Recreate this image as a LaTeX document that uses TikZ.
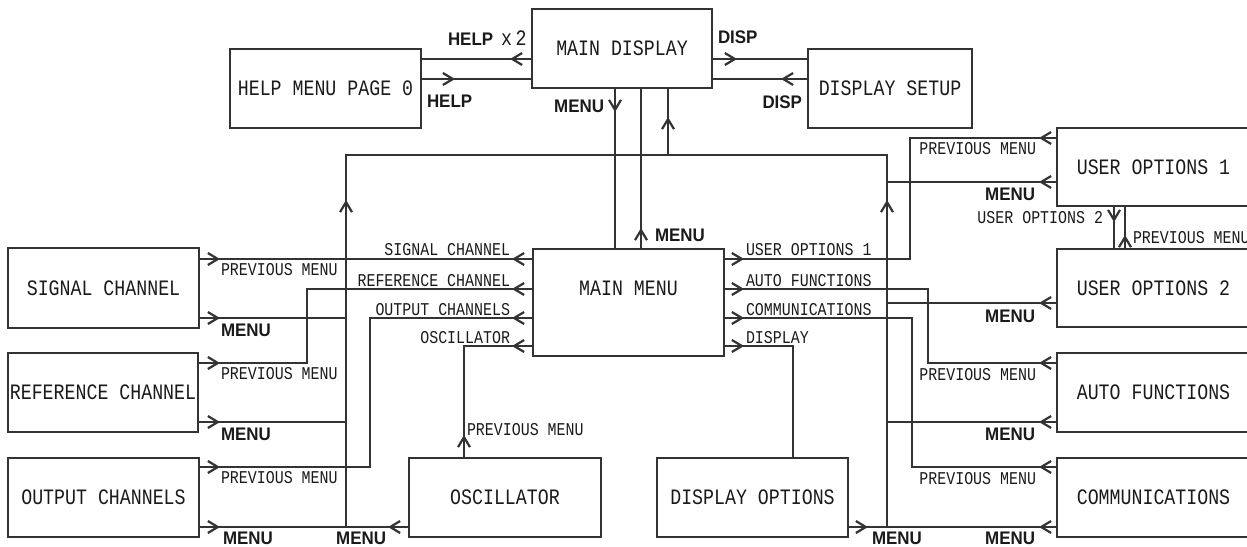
\documentclass[tikz,border=0pt]{standalone}
\usepackage{fontspec}
\usetikzlibrary{arrows.meta,decorations.markings}
\newfontfamily\monofnt[FakeStretch=0.83]{Liberation Mono}
\newfontfamily\sansfnt[FakeStretch=0.93]{Liberation Sans}
\definecolor{lc}{HTML}{333333}
\definecolor{tc}{HTML}{1A1A1A}
\tikzset{
  chev/.tip={Straight Barb[length=5pt,width=6pt,line width=1.1pt]},
  box/.style={draw=lc, line width=0.9pt, inner sep=0pt, outer sep=0pt, text=tc,
    font=\monofnt\fontsize{11}{13}\selectfont},
  conn/.style={draw=lc, line width=0.9pt},
  arrF/.style={postaction={decorate, decoration={markings, mark=at position #1 with {\arrow{chev}}}}},
  arrB/.style={postaction={decorate, decoration={markings, mark=at position -#1 with {\arrowreversed{chev}}}}},
  sl/.style={inner sep=0pt, outer sep=0pt, text=tc, font=\monofnt\fontsize{9}{11}\selectfont},
  ml/.style={inner sep=0pt, outer sep=0pt, text=tc, font=\monofnt\fontsize{11}{13}\selectfont},
  bl/.style={inner sep=0pt, outer sep=0pt, text=tc, font=\sansfnt\bfseries\fontsize{9.1}{11}\selectfont},
}
\begin{document}
\begin{tikzpicture}[x=0.5pt,y=-0.5pt]
\useasboundingbox (0,0) rectangle (1247,546);
\clip (0,0) rectangle (1247,546);
% ---------- boxes ----------
\node[box,minimum width=90pt,minimum height=39.5pt] (md) at (622,48.5) {MAIN DISPLAY};
\node[box,minimum width=95.5pt,minimum height=39.5pt] (help) at (325.5,88.5) {HELP MENU PAGE 0};
\node[box,minimum width=82pt,minimum height=39.5pt] (ds) at (890,88.5) {DISPLAY SETUP};
\node[box,minimum width=96.5pt,minimum height=39pt] (uo1) at (1153.5,167) {USER OPTIONS 1};
\node[box,minimum width=96.5pt,minimum height=39pt] (uo2) at (1153.5,288) {USER OPTIONS 2};
\node[box,minimum width=95.5pt,minimum height=53.5pt] (mm) at (628.5,302.5) {\raisebox{3.6pt}[0pt][0pt]{MAIN MENU}};
\node[box,minimum width=95.5pt,minimum height=40pt] (sc) at (103.5,288) {SIGNAL CHANNEL};
\node[box,minimum width=95pt,minimum height=39.5pt] (rc) at (103,392.5) {REFERENCE CHANNEL};
\node[box,minimum width=95.5pt,minimum height=39.5pt] (oc) at (103.5,497.5) {OUTPUT CHANNELS};
\node[box,minimum width=96pt,minimum height=39.5pt] (osc) at (505,497.5) {OSCILLATOR};
\node[box,minimum width=95.5pt,minimum height=39.5pt] (dop) at (752.5,497.5) {DISPLAY OPTIONS};
\node[box,minimum width=96.5pt,minimum height=39.5pt] (af) at (1153.5,392.5) {AUTO FUNCTIONS};
\node[box,minimum width=96.5pt,minimum height=39.5pt] (comm) at (1153.5,497.5) {COMMUNICATIONS};
% ---------- top connectors ----------
\draw[conn,arrF=11pt] (md.west |- 0,59) -- (help.east |- 0,59);
\draw[conn,arrF=17pt] (help.east |- 0,79) -- (md.west |- 0,79);
\draw[conn,arrF=12.5pt] (md.east |- 0,59) -- (ds.west |- 0,59);
\draw[conn,arrF=13.5pt] (ds.west |- 0,79) -- (md.east |- 0,79);
\draw[conn,arrF=12pt] (md.south -| 615,0) -- (mm.north -| 615,0);
\draw[conn,arrF=10.5pt] (mm.north -| 641,0) -- (md.south -| 641,0);
% ---------- MENU bus ----------
\coordinate (busl) at (346,155);
\coordinate (busr) at (887,155);
\coordinate (buslb) at (346,527);
\coordinate (busrb) at (887,527);
\draw[conn,arrF=163.5pt,arrB=163.5pt] (buslb) -- (busl) -- (busr) -- (busrb);
\draw[conn,arrF=19pt] (668,155) -- (md.south -| 668,0);
% ---------- left side ----------
\draw[conn,arrF=10.5pt,arrB=10.5pt] (mm.west |- 0,259) -- (sc.east |- 0,259);
\draw[conn,arrF=10.5pt,arrB=11pt] (mm.west |- 0,289) -| (307,363) -- (rc.east |- 0,363);
\draw[conn,arrF=10.5pt,arrB=10.5pt] (mm.west |- 0,318) -| (370,467) -- (oc.east |- 0,467);
\draw[conn,arrF=10.5pt,arrB=11.5pt] (mm.west |- 0,346) -| (osc.north -| 464,0);
\draw[conn,arrF=10.5pt] (sc.east |- 0,318) -- (346,318);
\draw[conn,arrF=11pt] (rc.east |- 0,422) -- (346,422);
\draw[conn,arrF=10.5pt,arrB=10.5pt] (oc.east |- 0,527) -- (osc.west |- 0,527);
% ---------- right side ----------
\draw[conn,arrF=10pt,arrB=9pt] (mm.east |- 0,259) -| (910,138) -- (uo1.west |- 0,138);
\draw[conn,arrF=10pt,arrB=9pt] (mm.east |- 0,289) -| (928,363) -- (af.west |- 0,363);
\draw[conn,arrF=10pt,arrB=9pt] (mm.east |- 0,318) -| (912,467) -- (comm.west |- 0,467);
\draw[conn,arrF=10pt] (mm.east |- 0,346) -| (dop.north -| 793,0);
\draw[conn,arrF=9pt] (uo1.west |- 0,182) -- (887,182);
\draw[conn,arrF=9pt] (uo2.west |- 0,303) -- (887,303);
\draw[conn,arrF=9pt] (af.west |- 0,422) -- (887,422);
\draw[conn,arrF=10pt,arrB=9pt] (dop.east |- 0,527) -- (comm.west |- 0,527);
\draw[conn,arrF=8pt] (uo1.south -| 1114,0) -- (uo2.north -| 1114,0);
\draw[conn,arrF=7pt] (uo2.north -| 1125,0) -- (uo1.south -| 1125,0);
% ---------- labels top ----------
\node[bl,anchor=base west] (t1) at (448,46) {HELP};
\node[ml,anchor=base west] (t2) at (501,46) {x\,2};
\node[bl,anchor=base west] (t3) at (427,107) {HELP};
\node[bl,anchor=base west] (t4) at (718,43) {DISP};
\node[bl,anchor=base east] (t5) at (802,108) {DISP};
\node[bl,anchor=base east] (t6) at (604,112) {MENU};
\node[bl,anchor=base west] (t7) at (655,241) {MENU};
% ---------- labels left ----------
\node[sl,anchor=base east] (l1) at (510,255) {SIGNAL CHANNEL};
\node[sl,anchor=base east] (l2) at (510,286) {REFERENCE CHANNEL};
\node[sl,anchor=base east] (l3) at (510,315) {OUTPUT CHANNELS};
\node[sl,anchor=base east] (l4) at (510,343) {OSCILLATOR};
\node[sl,anchor=base west] (l5) at (221,275) {PREVIOUS MENU};
\node[sl,anchor=base west] (l6) at (221,379) {PREVIOUS MENU};
\node[sl,anchor=base west] (l7) at (221,483) {PREVIOUS MENU};
\node[bl,anchor=base west] (l8) at (221,336) {MENU};
\node[bl,anchor=base west] (l9) at (221,440) {MENU};
\node[bl,anchor=base west] (l10) at (223,544) {MENU};
\node[bl,anchor=base east] (l11) at (386,544) {MENU};
\node[sl,anchor=base west] (l12) at (467,435) {PREVIOUS MENU};
% ---------- labels right ----------
\node[sl,anchor=base west] (r1) at (746,255) {USER OPTIONS 1};
\node[sl,anchor=base west] (r2) at (746,286) {AUTO FUNCTIONS};
\node[sl,anchor=base west] (r3) at (746,315) {COMMUNICATIONS};
\node[sl,anchor=base west] (r4) at (746,343) {DISPLAY};
\node[sl,anchor=base east] (r5) at (1036,154) {PREVIOUS MENU};
\node[sl,anchor=base east] (r6) at (1036,380) {PREVIOUS MENU};
\node[sl,anchor=base east] (r7) at (1036,484) {PREVIOUS MENU};
\node[bl,anchor=base east] (r8) at (1035,200) {MENU};
\node[bl,anchor=base east] (r9) at (1035,322) {MENU};
\node[bl,anchor=base east] (r10) at (1035,440) {MENU};
\node[bl,anchor=base east] (r11) at (1035,544) {MENU};
\node[bl,anchor=base west] (r12) at (872,544) {MENU};
\node[sl,anchor=base east] (r13) at (1103,223) {USER OPTIONS 2};
\node[sl,anchor=base west] (r14) at (1133,243) {PREVIOUS MENU};
\end{tikzpicture}
\end{document}
